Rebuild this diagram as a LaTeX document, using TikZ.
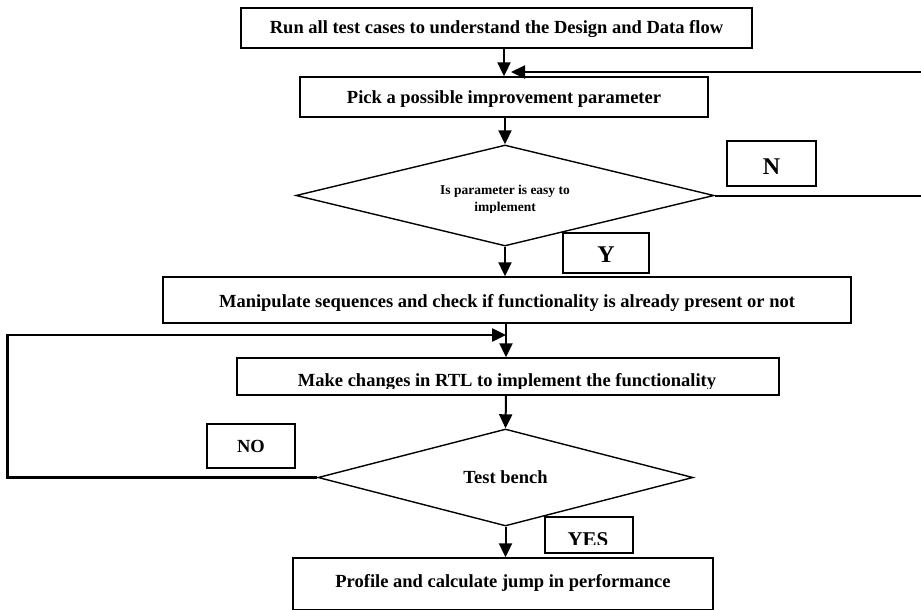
\documentclass[tikz,border=0pt]{standalone}
\usepackage{fontspec}
\setmainfont{Liberation Serif}
\usetikzlibrary{arrows.meta,shapes.geometric}
\begin{document}
\begin{tikzpicture}[x=1pt,y=-1pt,
  box/.style={draw,line width=1.4pt,rectangle,inner sep=0pt},
  dia/.style={draw,line width=1.4pt,diamond,inner sep=0pt},
  lbl/.style={font=\fontsize{18.5}{20}\selectfont\bfseries,anchor=base,inner sep=0pt},
  big/.style={font=\fontsize{24}{26}\selectfont\bfseries,anchor=base,inner sep=0pt},
  small/.style={font=\fontsize{13.5}{14}\selectfont\bfseries,anchor=base,inner sep=0pt},
  flow/.style={line width=2pt,-{Triangle[length=14pt,width=13pt]}},
]
\useasboundingbox (0,0) rectangle (921,610);

% boxes
\node[box,minimum width=511pt,minimum height=40pt] (b1) at (496.5,28) {};
\node[lbl] (t1) at ([yshift=-6pt]b1.center) {Run all test cases to understand the Design and Data flow};
\node[box,minimum width=408pt,minimum height=40pt] (b2) at (504,97) {};
\node[lbl] (t2) at ([yshift=-6.5pt]b2.center) {Pick a possible improvement parameter};
\node[dia,minimum width=418pt,minimum height=101pt] (d1) at (505,195.5) {};
\node[small] (d1a) at (505,194.5) {Is parameter is easy to};
\begin{scope}
  \clip (420,198) rectangle (590,212);
  \node[small] (d1b) at (505,211) {implement};
\end{scope}
\node[box,minimum width=89pt,minimum height=45pt] (nbox) at (771.5,163.5) {};
\node[big] (tn) at (771.5,174) {N};
\node[box,minimum width=86pt,minimum height=40pt] (ybox) at (606,253) {};
\node[big] (ty) at (606,262) {Y};
\node[box,minimum width=688pt,minimum height=46pt] (b3) at (507,300) {};
\node[lbl] (t3) at (507,307) {Manipulate sequences and check if functionality is already present or not};
\node[box,minimum width=542pt,minimum height=37pt] (b4) at (508,376.5) {};
\begin{scope}
  \clip (240,360) rectangle (776,388);
  \node[lbl] (t4) at (507,386) {Make changes in RTL to implement the functionality};
\end{scope}
\node[dia,minimum width=375pt,minimum height=97pt] (d2) at (505.5,477.5) {};
\node[lbl] (t6) at (505.5,483.5) {Test bench};
\node[box,minimum width=88pt,minimum height=44pt] (nobox) at (251,446) {};
\node[lbl] (tno) at (251,452.5) {NO};
\node[box,minimum width=88pt,minimum height=36pt] (yesbox) at (589,535) {};
\begin{scope}
  \clip (547,519) rectangle (631,544);
  \node[font=\fontsize{21}{22}\selectfont\bfseries,anchor=base,inner sep=0pt] (yes) at (588,546) {YES};
\end{scope}
\node[box,minimum width=420pt,minimum height=52pt] (b5) at (503,584) {};
\node[lbl] (t5) at (503,587.5) {Profile and calculate jump in performance};

% connectors
\draw[flow] (b1.south -| b2.north) -- (b2.north);
\draw[flow] (d1.north |- b2.south) -- (d1.north);
\coordinate (fbtip) at (511,72);
\draw[flow] (d1.east) -- ++(230,0) |- (fbtip);
\draw[flow] (d1.south) -- (b3.north -| d1.south);
\coordinate (lp) at (506,335);
\draw[flow] (b3.south -| lp) -- (b4.north -| lp);
\draw[flow,line width=2.5pt] (d2.west) -- ++(-310,0) |- (lp);
\draw[flow] (b4.south -| lp) -- (d2.north);
\draw[flow] (d2.south) -- (b5.north -| d2.south);
\end{tikzpicture}
\end{document}
